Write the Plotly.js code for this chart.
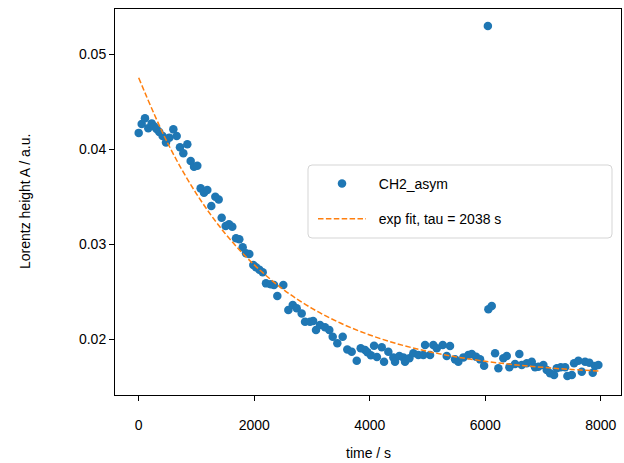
<!DOCTYPE html>
<html><head><meta charset="utf-8">
<script src="https://cdn.plot.ly/plotly-3.0.1.min.js"></script>
<style>html,body{margin:0;padding:0;background:#fff}#chart{width:624px;height:463px}</style>
</head><body><div id="chart"></div>
<script>
const timeS = [0,52,109,166,225,265,310,357,415,473,530,600,658,715,773,842,900,958,1015,1073,1131,1188,1257,1327,1385,1437,1506,1564,1621,1685,1742,1801,1858,1915,1985,2031,2090,2147,2204,2286,2343,2400,2504,2591,2667,2736,2822,2880,2966,3020,3070,3139,3226,3300,3359,3439,3532,3612,3688,3775,3844,3919,3960,4020,4075,4125,4208,4248,4322,4409,4438,4513,4582,4611,4686,4755,4842,4928,4958,5044,5101,5160,5264,5333,5390,5477,5534,5621,5707,5766,5841,5910,5980,6045,6054,6112,6170,6227,6313,6372,6418,6516,6590,6632,6719,6805,6862,6919,7006,7065,7122,7191,7238,7307,7382,7422,7498,7537,7612,7671,7728,7803,7861,7901,7958];
const heightA = [0.0417,0.04263,0.04323,0.0422,0.0427,0.0424,0.0421,0.0418,0.04137,0.0407,0.0412,0.04207,0.04137,0.04018,0.03955,0.0405,0.03874,0.03814,0.03824,0.03586,0.0354,0.03568,0.034,0.03498,0.0347,0.03277,0.0319,0.03207,0.03182,0.0306,0.0305,0.02965,0.02902,0.02895,0.0278,0.02755,0.0273,0.02702,0.02586,0.02576,0.02568,0.02453,0.02568,0.02305,0.02358,0.02323,0.0227,0.02182,0.02182,0.0219,0.02095,0.02147,0.02123,0.02095,0.02024,0.01955,0.02024,0.01891,0.01866,0.01771,0.01902,0.01884,0.0186,0.0183,0.0193,0.0181,0.01913,0.01761,0.01866,0.01807,0.01761,0.01821,0.01807,0.01761,0.01797,0.0185,0.01832,0.01832,0.01937,0.01832,0.01937,0.01902,0.01937,0.01821,0.01926,0.01786,0.01761,0.01807,0.01832,0.01842,0.01814,0.01786,0.0172,0.05295,0.02313,0.02347,0.0185,0.01692,0.01797,0.01821,0.01702,0.01737,0.01842,0.01726,0.01744,0.01761,0.01702,0.01708,0.01726,0.01674,0.01639,0.01621,0.01692,0.01702,0.01702,0.01611,0.01621,0.01744,0.01771,0.01656,0.01761,0.01751,0.01645,0.01716,0.01726];
const fitTime = [0,500,1000,1500,2000,2500,3000,3500,4000,4500,5000,5500,6000,6500,7000,7500,8000];
const fitHeight = [0.0475,0.04065,0.03529,0.03109,0.02781,0.02524,0.02323,0.02166,0.02043,0.01946,0.01871,0.01812,0.01766,0.0173,0.01702,0.01679,0.01662];
const xTickVals = [0,2000,4000,6000,8000];
const yTickVals = [0.02,0.03,0.04,0.05];
const seriesName = 'CH2_asym';
const fitName = 'exp fit, tau = 2038 s';
const xLabel = 'time / s';
const yLabel = 'Lorentz height A / a.u.';

const W = 624, H = 463;
const mL = 115, mR = 3, mT = 9, mB = 68;
const pw = W - mL - mR, ph = H - mT - mB;
function px2x(p){ return (p - mL) / pw; }
function py2y(p){ return (H - mB - p) / ph; }

// legend frame (rounded)
const bx0 = px2x(308), bx1 = px2x(612), by0 = py2y(238), by1 = py2y(165);
const rx = 4 / pw, ry = 4 / ph;
const boxPath = `M ${bx0+rx},${by1} L ${bx1-rx},${by1} Q ${bx1},${by1} ${bx1},${by1-ry} L ${bx1},${by0+ry} Q ${bx1},${by0} ${bx1-rx},${by0} L ${bx0+rx},${by0} Q ${bx0},${by0} ${bx0},${by0+ry} L ${bx0},${by1-ry} Q ${bx0},${by1} ${bx0+rx},${by1} Z`;

const font = {family: '"Liberation Sans", Arial, sans-serif', size: 14, color: '#000'};
const pad = '\u00a0\u00a0';

const traces = [
  {x: timeS, y: heightA, type: 'scatter', mode: 'markers', name: pad + seriesName,
   legendgroup: 'a', marker: {color: '#1f77b4', size: 8.5}},
  {x: fitTime, y: fitHeight, type: 'scatter', mode: 'lines', name: pad + fitName,
   legendgroup: 'b', line: {color: '#ff7f0e', width: 1.5, dash: '5.5px,2.4px', shape: 'spline'}}
];

const layout = {
  width: W, height: H,
  margin: {l: mL, r: mR, t: mT, b: mB, pad: 0},
  paper_bgcolor: '#fff', plot_bgcolor: '#fff',
  font: font,
  showlegend: true,
  legend: {x: px2x(313), y: py2y(168), xanchor: 'left', yanchor: 'top',
    bgcolor: 'rgba(0,0,0,0)', borderwidth: 0, font: font,
    itemwidth: 48, traceorder: 'grouped', tracegroupgap: 14},
  xaxis: {range: [-410, 8350], tickvals: xTickVals, ticktext: xTickVals.map(String),
    showgrid: false, zeroline: false, showline: true, mirror: true,
    linecolor: '#000', linewidth: 1, ticks: 'outside', ticklen: 5, tickwidth: 1, tickcolor: '#000',
    ticklabelstandoff: 12, tickfont: font},
  yaxis: {range: [0.01411, 0.05474], tickvals: yTickVals, ticktext: yTickVals.map(v => v.toFixed(2)),
    showgrid: false, zeroline: false, showline: true, mirror: true,
    linecolor: '#000', linewidth: 1, ticks: 'outside', ticklen: 5, tickwidth: 1, tickcolor: '#000',
    tickfont: font},
  shapes: [{type: 'path', xref: 'paper', yref: 'paper', path: boxPath,
    line: {color: '#d5d5d5', width: 1}, fillcolor: 'rgba(255,255,255,0.8)', layer: 'above'}],
  annotations: [
    {text: yLabel, xref: 'paper', yref: 'paper', x: px2x(25), y: py2y(202),
     xanchor: 'center', yanchor: 'middle', textangle: -90, showarrow: false, font: font},
    {text: xLabel, xref: 'paper', yref: 'paper', x: 0.5, y: py2y(453),
     xanchor: 'center', yanchor: 'middle', showarrow: false, font: font}
  ]
};

Plotly.newPlot('chart', traces, layout, {displayModeBar: false, staticPlot: true});
</script>
</body></html>
